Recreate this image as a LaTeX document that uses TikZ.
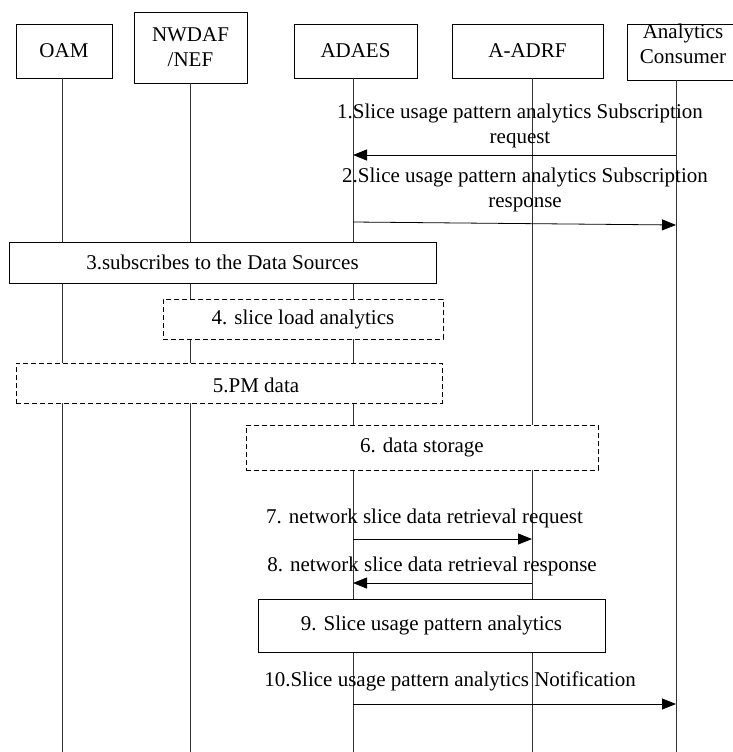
\documentclass[tikz,border=0pt]{standalone}
\usepackage{fontspec}
\setmainfont{Liberation Serif}
\usetikzlibrary{arrows.meta}

\begin{document}
\begin{tikzpicture}[x=1pt, y=-1pt,
        font=\fontsize{21}{25}\selectfont,
        actor/.style={draw, line width=0.9pt, align=center, inner sep=0pt},
        life/.style={line width=0.8pt, black!80},
        msg/.style={line width=0.8pt, -{Triangle[length=14pt,width=11pt]}},
        stepbox/.style={draw, fill=white, line width=0.8pt, inner sep=0pt},
        dashbox/.style={stepbox, dash pattern=on 5pt off 3pt},
        lbl/.style={align=center, inner sep=0pt}]

        \useasboundingbox (0,0) rectangle (733,752);

        % entities
        \node[actor, minimum width=96pt, minimum height=54pt] (oam) at (64,51) {OAM};
        \node[actor, minimum width=113pt, minimum height=71pt] (nwdaf) at (190.5,47.5) {NWDAF\\/NEF};
        \node[actor, minimum width=123pt, minimum height=54pt] (adaes) at (355.5,51) {ADAES};
        \node[actor, minimum width=151pt, minimum height=54pt] (adrf) at (527.5,51) {A-ADRF};
        \node[actor, minimum width=113pt, minimum height=56pt] (cons) at (683.5,52) {};
        \node[lbl] (constext) at (683,44) {Analytics\\Consumer};

        % lifelines
        \coordinate (oamL) at (62,752);
        \coordinate (nwdafL) at (190,752);
        \coordinate (adaesL) at (353,752);
        \coordinate (adrfL) at (532,752);
        \coordinate (consL) at (676,752);
        \foreach \n in {oam, nwdaf, adaes, adrf, cons} {
            \draw[life] (\n.south -| \n L) -- (\n L);
        }

        % 1. subscription request
        \coordinate (c1) at (676,155);
        \coordinate (a1) at (353,155);
        \draw[msg] (c1) -- (a1);
        \node[lbl] (l1) at (520,126) {1.Slice usage pattern analytics Subscription\\request};

        % 2. subscription response
        \coordinate (a2) at (353,222);
        \coordinate (c2) at (676,225);
        \draw[msg] (a2) -- (c2);
        \node[lbl] (l2) at (525,190) {2.Slice usage pattern analytics Subscription\\response};

        % 3. - 6. steps
        \node[stepbox, minimum width=427pt, minimum height=41pt] (s3) at (222.5,262.5) {3.subscribes to the Data Sources};
        \node[dashbox, minimum width=280pt, minimum height=40pt] (s4) at (303,319) {4. slice load analytics};
        \node[dashbox, minimum width=426pt, minimum height=40pt] (s5) at (229,383) {};
        \node[lbl] (s5text) at (256,385) {5.PM data};
        \node[dashbox, minimum width=352pt, minimum height=45pt] (s6) at (422,447.5) {6. data storage};

        % 7. retrieval request
        \coordinate (a7) at (353,539);
        \coordinate (d7) at (532,539);
        \draw[msg] (a7) -- (d7);
        \node[lbl] (l7) at (424.5,518) {7. network slice data retrieval request};

        % 8. retrieval response
        \coordinate (d8) at (532,583);
        \coordinate (a8) at (353,583);
        \draw[msg] (d8) -- (a8);
        \node[lbl] (l8) at (432,566) {8. network slice data retrieval response};

        % 9. analytics
        \node[stepbox, minimum width=347pt, minimum height=53pt] (s9) at (431.5,625.5) {9. Slice usage pattern analytics};

        % 10. notification
        \coordinate (a10) at (353,704);
        \coordinate (c10) at (676,704);
        \draw[msg] (a10) -- (c10);
        \node[lbl] (l10) at (450,681) {10.Slice usage pattern analytics Notification};

    \end{tikzpicture}
\end{document}
